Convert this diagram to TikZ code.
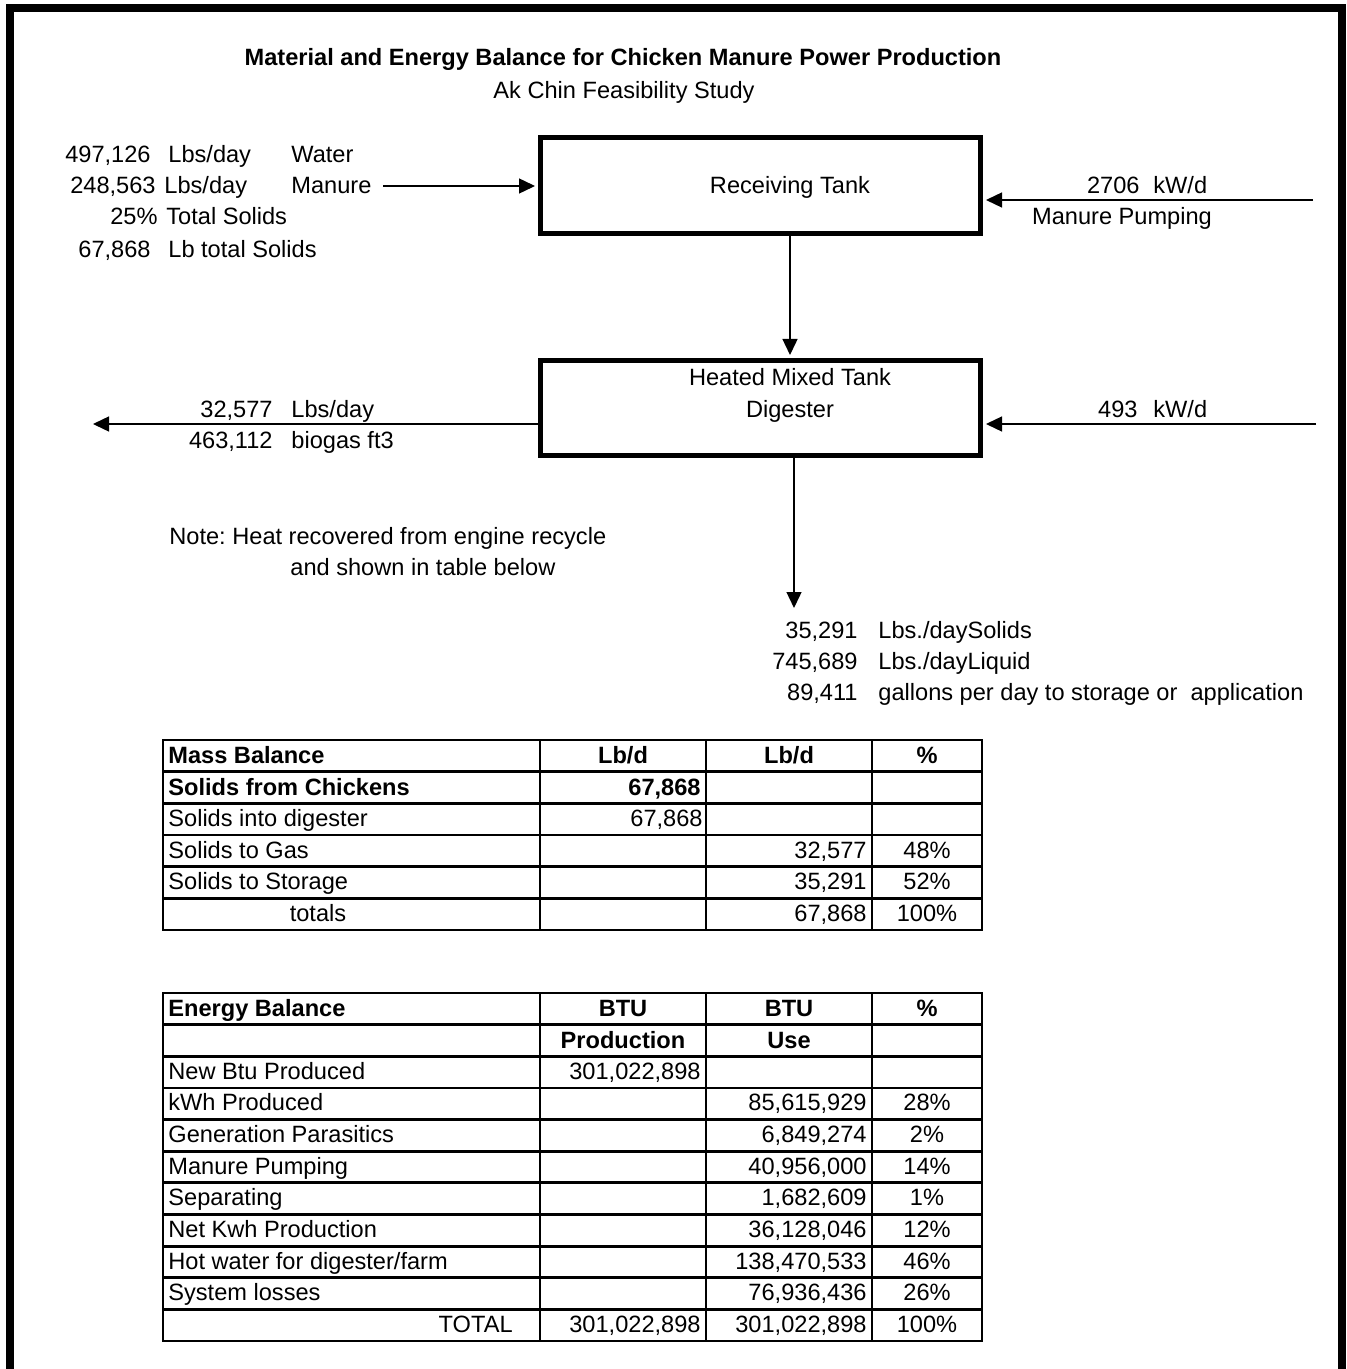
\documentclass[tikz,border=0pt]{standalone}
\usepackage{fontspec}
\setmainfont{Liberation Sans}
\usetikzlibrary{arrows.meta,calc}
\frenchspacing

\begin{document}
\begin{tikzpicture}[
    x=0.5pt, y=-0.5pt, % one unit = one pixel of the sheet
    >={Triangle[length=8pt,width=7.5pt]},
    txt/.style={inner sep=0pt, font=\fontsize{11.8}{14}\selectfont},
    bold/.style={inner sep=0pt, font=\fontsize{11.8}{14}\selectfont\bfseries},
    tank/.style={draw, line width=2.5pt, inner sep=0pt},
    flow/.style={->, line width=0.7pt, shorten >=1.5pt},
    grid line/.style={line width=1.4pt, line cap=rect}
]

% --- 1. SHEET & FRAME ---
\useasboundingbox (0,0) rectangle (1347,1369);
\draw[line width=4pt, line join=miter] (10,1369) -- (10,8) -- (1342,8) -- (1342,1369);

% --- 2. TITLE ---
\node[bold, anchor=base] (title) at (623,66) {Material and Energy Balance for Chicken Manure Power Production};
\node[txt, anchor=base] (subtitle) at (624,99) {Ak Chin Feasibility Study};

% --- 3. TANKS ---
\node[tank, minimum width=220pt, minimum height=48pt] (recv) at (760.5,186) {};
\node[txt, anchor=base] (recvtxt) at (790,194) {Receiving Tank};

\node[tank, minimum width=220pt, minimum height=47.5pt] (dig) at (760.5,408) {};
\node[txt, anchor=base] (digtxt) at (790,386) {Heated Mixed Tank};
\node[txt, anchor=base] (digtxtb) at (790,417) {Digester};

% --- 4. FEED INTO RECEIVING TANK ---
\node[txt, anchor=base east] (waterqty) at (151,163) {497,126};
\node[txt, anchor=base west] (waterunit) at (168,163) {Lbs/day};
\node[txt, anchor=base west] (water) at (291,163) {Water};
\node[txt, anchor=base east] (manureqty) at (156,194) {248,563};
\node[txt, anchor=base west] (manureunit) at (164,194) {Lbs/day};
\node[txt, anchor=base west] (manure) at (291,194) {Manure};
\node[txt, anchor=base east] (tspct) at (158,225) {25\%};
\node[txt, anchor=base west] (tstxt) at (166,225) {Total Solids};
\node[txt, anchor=base east] (tsqty) at (151,258) {67,868};
\node[txt, anchor=base west] (tsunit) at (168,258) {Lb total Solids};

\coordinate (manurein) at (383,186);
\draw[flow] (manurein) -- (recv.west |- manurein);

% --- 5. POWER INTO TANKS ---
\coordinate (pumpin) at (1313,200);
\draw[flow] (pumpin) -- (recv.east |- pumpin);
\node[txt, anchor=base east] (pumpqty) at (1140,194) {2706};
\node[txt, anchor=base west] (pumpunit) at (1153,194) {kW/d};
\node[txt, anchor=base] (pumptxt) at (1122,225) {Manure Pumping};

\coordinate (heatin) at (1316,424);
\draw[flow] (heatin) -- (dig.east |- heatin);
\node[txt, anchor=base east] (heatqty) at (1138,417) {493};
\node[txt, anchor=base west] (heatunit) at (1153,417) {kW/d};

% --- 6. TANK TO DIGESTER ---
\draw[flow] (recv.south -| recvtxt) -- (dig.north -| recvtxt);

% --- 7. BIOGAS OUT ---
\coordinate (gasout) at (93,424);
\draw[flow, shorten >=0pt] (dig.west |- gasout) -- (gasout);
\node[txt, anchor=base east] (gasqty) at (273,417) {32,577};
\node[txt, anchor=base west] (gasunit) at (291,417) {Lbs/day};
\node[txt, anchor=base east] (gasvol) at (273,448) {463,112};
\node[txt, anchor=base west] (gasvolunit) at (291,448) {biogas ft3};

\node[txt, anchor=base west] (note) at (169,544) {Note: Heat recovered from engine recycle};
\node[txt, anchor=base west] (noteb) at (290,575) {and shown in table below};

% --- 8. EFFLUENT OUT ---
\coordinate (sludgeout) at (794,608);
\draw[flow, shorten >=0pt] (dig.south -| sludgeout) -- (sludgeout);
\node[txt, anchor=base east] (solidsqty) at (858,638) {35,291};
\node[txt, anchor=base west] (solidsunit) at (878,638) {Lbs./daySolids};
\node[txt, anchor=base east] (liquidqty) at (858,669) {745,689};
\node[txt, anchor=base west] (liquidunit) at (878,669) {Lbs./dayLiquid};
\node[txt, anchor=base east] (galqty) at (858,700) {89,411};
\node[txt, anchor=base west] (galunit) at (878,700) {gallons per day to storage or\ \ application};

% --- 9. MASS BALANCE TABLE ---
\foreach \i in {0,...,6}
    \draw[grid line] (163,{740+\i*31.67}) -- (982,{740+\i*31.67});
\foreach \x in {163,540,706,872,982}
    \draw[grid line] (\x,740) -- (\x,930);

\node[bold, anchor=base west] (massttl) at (168,763) {Mass Balance};
\node[bold, anchor=base] (masshda) at (623,763) {Lb/d};
\node[bold, anchor=base] (masshdb) at (789,763) {Lb/d};
\node[bold, anchor=base] (masshdc) at (927,763) {\%};
\node[bold, anchor=base west] (chick) at (168,795) {Solids from Chickens};
\node[bold, anchor=base east] (chickqty) at (701,795) {67,868};
\node[txt, anchor=base west] (into) at (168,826) {Solids into digester};
\node[txt, anchor=base east] (intoqty) at (703,826) {67,868};
\foreach \i/\name/\lbs/\pct in {3/Solids to Gas/{32,577}/48, 4/Solids to Storage/{35,291}/52} {
    \node[txt, anchor=base west] at (168,{763+\i*31.67}) {\name};
    \node[txt, anchor=base east] at (867,{763+\i*31.67}) {\lbs};
    \node[txt, anchor=base] at (927,{763+\i*31.67}) {\pct\%};
}
\node[txt, anchor=base] (masstot) at (318,921) {totals};
\node[txt, anchor=base east] (masstotqty) at (867,921) {67,868};
\node[txt, anchor=base] (masstotpct) at (927,921) {100\%};

% --- 10. ENERGY BALANCE TABLE ---
\foreach \i in {0,...,11}
    \draw[grid line] (163,{993+\i*31.64}) -- (982,{993+\i*31.64});
\foreach \x in {163,540,706,872,982}
    \draw[grid line] (\x,993) -- (\x,1341);

\node[bold, anchor=base west] (enttl) at (168,1016) {Energy Balance};
\node[bold, anchor=base] (enhda) at (623,1016) {BTU};
\node[bold, anchor=base] (enhdb) at (789,1016) {BTU};
\node[bold, anchor=base] (enhdc) at (927,1016) {\%};
\node[bold, anchor=base] (enprod) at (623,1048) {Production};
\node[bold, anchor=base] (enuse) at (789,1048) {Use};
\node[txt, anchor=base west] (newbtu) at (168,1079) {New Btu Produced};
\node[txt, anchor=base east] (newbtuqty) at (701,1079) {301,022,898};
\foreach \i/\name/\btu/\pct in {
    3/kWh Produced/{85,615,929}/28,
    4/Generation Parasitics/{6,849,274}/2,
    5/Manure Pumping/{40,956,000}/14,
    6/Separating/{1,682,609}/1,
    7/Net Kwh Production/{36,128,046}/12,
    8/Hot water for digester\slash farm/{138,470,533}/46,
    9/System losses/{76,936,436}/26} {
    \node[txt, anchor=base west] at (168,{1016+\i*31.64}) {\name};
    \node[txt, anchor=base east] at (867,{1016+\i*31.64}) {\btu};
    \node[txt, anchor=base] at (927,{1016+\i*31.64}) {\pct\%};
}
\node[txt, anchor=base east] (entot) at (513,1332) {TOTAL};
\node[txt, anchor=base east] (entotprod) at (701,1332) {301,022,898};
\node[txt, anchor=base east] (entotuse) at (867,1332) {301,022,898};
\node[txt, anchor=base] (entotpct) at (927,1332) {100\%};

\end{tikzpicture}
\end{document}
